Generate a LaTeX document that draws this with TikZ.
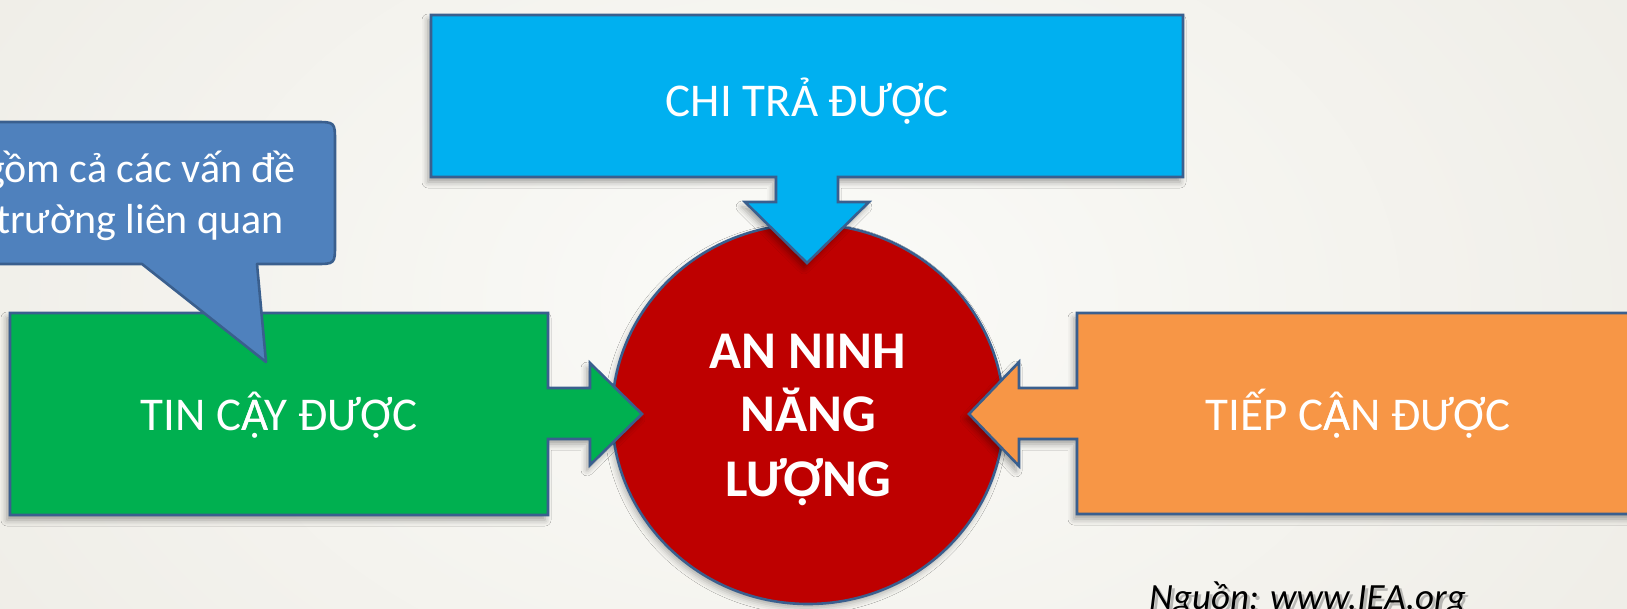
\documentclass[tikz,border=0pt]{standalone}
\usepackage{fontspec}
\setmainfont{Carlito}
\usetikzlibrary{shadows.blur}

\definecolor{edgeblue}{HTML}{3A5F8E}
\definecolor{skyfill}{HTML}{00B0F0}
\definecolor{greenfill}{HTML}{00B050}
\definecolor{redfill}{HTML}{BE0000}
\definecolor{orangefill}{HTML}{F79646}
\definecolor{notefill}{HTML}{4F81BD}
\definecolor{paperlight}{HTML}{FBFBF8}
\definecolor{paperdark}{HTML}{ECEAE3}

% A with circumflex and dot below, built from the two single-mark glyphs
\newcommand{\Acircdot}{\makebox[0pt][l]{Â}Ạ}

\tikzset{
  panel/.style={draw=edgeblue, line width=2.6pt, line join=miter,
    blur shadow={shadow xshift=-3pt, shadow yshift=-5pt,
      shadow blur radius=6pt, shadow opacity=35}},
  note/.style={draw=edgeblue, line width=2.6pt, line join=round, fill=notefill},
  label/.style={text=white, font=\fontsize{47}{56}\selectfont, inner sep=0pt, anchor=base},
  core/.style={text=white, font=\bfseries\fontsize{53}{64}\selectfont, inner sep=0pt, anchor=base},
  notetext/.style={text=white, font=\fontsize{42}{52}\selectfont, inner sep=0pt, anchor=base east},
}

\begin{document}
\begin{tikzpicture}[x=1pt, y=-1pt]
  \useasboundingbox (0,0) rectangle (1627,608);
  \clip (0,0) rectangle (1627,608);

  % paper background
  \shade[inner color=paperlight, outer color=paperdark] (-400,-500) rectangle (2000,1100);

  % central circle
  \fill[redfill, draw=edgeblue, line width=2.6pt,
    blur shadow={shadow xshift=-2pt, shadow yshift=-4pt, shadow blur radius=6pt, shadow opacity=30}]
    (808,414) ellipse [x radius=196, y radius=190];
  \node (core) at (808,414) {};

  % top panel with down arrow
  \path[panel, fill=skyfill]
    (431,15) -- (1183,15) -- (1183,177) -- (838,177) -- (838,202) -- (869,202)
    -- (807,263) -- (745,202) -- (776,202) -- (776,177) -- (431,177) -- cycle;

  % left panel with right arrow
  \path[panel, fill=greenfill]
    (10,313) -- (548,313) -- (548,388) -- (590,388) -- (590,363) -- (642,414)
    -- (590,465) -- (590,439) -- (548,439) -- (548,515) -- (10,515) -- cycle;

  % right panel with left arrow
  \path[panel, fill=orangefill]
    (1660,313) -- (1077,313) -- (1077,388) -- (1019,388) -- (1019,362) -- (969,414)
    -- (1019,466) -- (1019,439) -- (1077,439) -- (1077,514) -- (1660,514) -- cycle;

  % speech bubble pointing into the left panel
  \path[note]
    (-80,122) -- (315,122) .. controls (335,122) .. (335,142) -- (335,244)
    .. controls (335,264) .. (315,264) -- (257,264) -- (266,362) -- (142,264)
    -- (-80,264) -- cycle;

  % texts
  \node[label] (afford) at (807,116) {CHI TRẢ ĐƯỢC};
  \node[label] (reliable) at (279,430) {TIN C\Acircdot Y ĐƯỢC};
  \node[label] (access) at (1358,430) {TIẾP C\Acircdot N ĐƯỢC};
  \node[core] (l1) at (808,368) {AN NINH};
  \node[core] (l2) at (808,431) {NĂNG};
  \node[core] (l3) at (808,496) {LƯỢNG};
  \node[notetext] (n1) at (296,182) {gồm cả các vấn đề};
  \node[notetext] (n2) at (284,233) {trường liên quan};

  % source line with soft shadow
  \node[anchor=base west, inner sep=0pt, text=black!55, opacity=0.45,
    font=\itshape\fontsize{37}{44}\selectfont] (srcshadow) at (1152,612) {Nguồn: www.IEA.org};
  \node[anchor=base west, inner sep=0pt, text=black,
    font=\itshape\fontsize{37}{44}\selectfont] (src) at (1149,609) {Nguồn: www.IEA.org};
\end{tikzpicture}
\end{document}
